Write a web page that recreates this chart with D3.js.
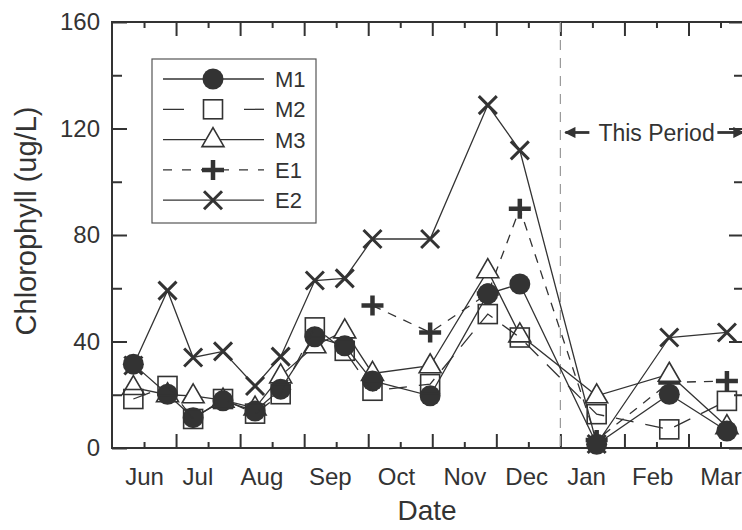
<!DOCTYPE html>
<html>
<head>
<meta charset="utf-8">
<script src="https://cdn.jsdelivr.net/npm/d3@7"></script>
<style>
  body { margin: 0; background: #fff; }
  text { font-family: "Liberation Sans", Arial, sans-serif; fill: #333; }
</style>
</head>
<body>
<div id="chart"></div>
<script>

// sampling dates as days since 1 June
var days = [10, 26, 38, 52, 67, 79, 95, 109, 122, 149, 176, 191, 227, 261, 288];

var m1 = [31.5, 20.2, 11.4, 17.7, 13.9, 22.1, 41.8, 38.4, 25.2, 19.6, 57.9, 61.6, 1.4, 20.2, 6.4];
var m2 = [18.4, 23.3, 10.9, 18.4, 12.9, 20.2, 45.3, 36.5, 21.5, 24.0, 50.3, 41.5, 12.7, 7.0, 17.7];
var m3 = [22.7, 20.0, 19.6, 18.0, 15.0, 27.1, 38.4, 44.0, 28.0, 30.9, 66.6, 42.5, 19.6, 27.7, 8.0];
var e1 = [null, null, null, null, null, null, null, null, 53.5, 43.4, 58.0, 89.9, 3.0, 24.6, 25.2];
var e2 = [31.0, 59.1, 34.0, 36.3, 23.3, 34.3, 62.9, 63.7, 78.5, 78.5, 128.8, 111.8, 1.5, 41.5, 43.4];

var months = ["Jun", "Jul", "Aug", "Sep", "Oct", "Nov", "Dec", "Jan", "Feb", "Mar"];
var monthLabelDays = [15, 40, 70, 102, 133, 165, 194, 222, 253, 285];

var periodStart = 210;   // day where "This Period" begins
var periodLabel = "This Period";

var svgWidth = 742, svgHeight = 530;

var svg = d3.select("#chart")
  .append("svg")
  .attr("width", svgWidth)
  .attr("height", svgHeight)
  .style("overflow", "hidden")

var margin = { top: 22, left: 112, right: 744, bottom: 448 }
var ink = "#333"

var x = d3.scaleLinear().domain([0, 296]).range([margin.left, margin.right])
var y = d3.scaleLinear().domain([0, 160]).range([margin.bottom, margin.top])

// ticks: x every 15 days (major at 30), y every 20 (labels at 40)
var xMajor = d3.range(30, 296, 30)
var xMinor = d3.range(15, 296, 30)
var yMajor = [0, 40, 80, 120, 160]
var yMinor = [20, 60, 100, 140]

function styleAxis(g) {
  g.select(".domain").remove()
  g.selectAll("line").attr("stroke", ink).attr("stroke-width", 2)
  g.selectAll("text").attr("font-size", "24px").attr("fill", ink)
}

// left axis
svg.append("g").attr("transform", `translate(${margin.left},0)`)
  .call(d3.axisLeft(y).tickValues(yMajor).tickSizeInner(-15).tickSizeOuter(0).tickPadding(12))
  .call(styleAxis)
svg.append("g").attr("transform", `translate(${margin.left},0)`)
  .call(d3.axisLeft(y).tickValues(yMinor).tickSizeInner(-10).tickSizeOuter(0).tickFormat(""))
  .call(styleAxis)

// right axis (mirror ticks)
svg.append("g").attr("transform", `translate(${margin.right},0)`)
  .call(d3.axisRight(y).tickValues(yMajor).tickSizeInner(-15).tickSizeOuter(0).tickFormat(""))
  .call(styleAxis)
svg.append("g").attr("transform", `translate(${margin.right},0)`)
  .call(d3.axisRight(y).tickValues(yMinor).tickSizeInner(-10).tickSizeOuter(0).tickFormat(""))
  .call(styleAxis)

// bottom and top ticks
svg.append("g").attr("transform", `translate(0,${margin.bottom})`)
  .call(d3.axisBottom(x).tickValues(xMajor).tickSizeInner(-14).tickSizeOuter(0).tickFormat(""))
  .call(styleAxis)
svg.append("g").attr("transform", `translate(0,${margin.bottom})`)
  .call(d3.axisBottom(x).tickValues(xMinor).tickSizeInner(-6).tickSizeOuter(0).tickFormat(""))
  .call(styleAxis)
svg.append("g").attr("transform", `translate(0,${margin.top})`)
  .call(d3.axisTop(x).tickValues(xMajor).tickSizeInner(-14).tickSizeOuter(0).tickFormat(""))
  .call(styleAxis)
svg.append("g").attr("transform", `translate(0,${margin.top})`)
  .call(d3.axisTop(x).tickValues(xMinor).tickSizeInner(-6).tickSizeOuter(0).tickFormat(""))
  .call(styleAxis)

// month labels
svg.append("g").attr("transform", `translate(0,${margin.bottom})`)
  .call(d3.axisBottom(x).tickValues(monthLabelDays).tickSize(0).tickPadding(20)
    .tickFormat((d, i) => months[i]))
  .call(styleAxis)

// frame
svg.append("rect")
  .attr("x", margin.left).attr("y", margin.top)
  .attr("width", margin.right - margin.left)
  .attr("height", margin.bottom - margin.top)
  .attr("fill", "none").attr("stroke", ink).attr("stroke-width", 2)

// axis titles
svg.append("text")
  .attr("transform", `translate(36,${(margin.top + margin.bottom) / 2 - 14}) rotate(-90)`)
  .attr("text-anchor", "middle")
  .attr("font-size", "29px")
  .text("Chlorophyll (ug/L)")

svg.append("text")
  .attr("x", (margin.left + margin.right) / 2 - 1)
  .attr("y", 520)
  .attr("text-anchor", "middle")
  .attr("font-size", "28px")
  .text("Date")

// "This Period" marker
svg.append("line")
  .attr("x1", x(periodStart)).attr("x2", x(periodStart))
  .attr("y1", y(160)).attr("y2", y(0))
  .attr("stroke", "#999").attr("stroke-width", 1.2)
  .attr("stroke-dasharray", "10,8")

var defs = svg.append("defs")
defs.append("marker")
  .attr("id", "arrow")
  .attr("viewBox", "0 0 10 10")
  .attr("refX", 9).attr("refY", 5)
  .attr("markerWidth", 4.5).attr("markerHeight", 4)
  .attr("orient", "auto-start-reverse")
  .append("path").attr("d", "M0,0L10,5L0,10z").attr("fill", ink)

var annY = y(118.5)
svg.append("line")
  .attr("x1", x(periodStart) + 29).attr("x2", x(periodStart) + 5)
  .attr("y1", annY).attr("y2", annY)
  .attr("stroke", ink).attr("stroke-width", 2.8)
  .attr("marker-end", "url(#arrow)")
svg.append("text")
  .attr("x", x(periodStart) + 38).attr("y", annY)
  .attr("dy", "0.35em")
  .attr("font-size", "23px")
  .text(periodLabel)
svg.append("line")
  .attr("x1", x(periodStart) + 157).attr("x2", x(periodStart) + 183)
  .attr("y1", annY).attr("y2", annY)
  .attr("stroke", ink).attr("stroke-width", 2.8)
  .attr("marker-end", "url(#arrow)")

// marker drawers
function drawMarker(g, kind) {
  if (kind == "circle") {
    g.append("circle").attr("r", 10.5).attr("fill", ink)
  } else if (kind == "square") {
    g.append("rect").attr("x", -9.5).attr("y", -9.5).attr("width", 19).attr("height", 19)
      .attr("fill", "none").attr("stroke", ink).attr("stroke-width", 1.6)
  } else if (kind == "triangle") {
    g.append("path").attr("d", "M0,-12L11,7L-11,7Z")
      .attr("fill", "#fff").attr("stroke", ink).attr("stroke-width", 1.6)
  } else if (kind == "plus") {
    g.append("path").attr("d", "M-11,0H11M0,-10V10")
      .attr("stroke", ink).attr("stroke-width", 4.5)
  } else if (kind == "x") {
    g.append("path").attr("d", "M-9,-9L9,9M-9,9L9,-9")
      .attr("stroke", ink).attr("stroke-width", 3)
  }
}

var series = [
  { name: "E2", values: e2, marker: "x", dash: null },
  { name: "E1", values: e1, marker: "plus", dash: "9,8" },
  { name: "M3", values: m3, marker: "triangle", dash: null },
  { name: "M1", values: m1, marker: "circle", dash: null },
  { name: "M2", values: m2, marker: "square", dash: "18,12" }
]

var line = d3.line()
  .defined(d => d.v != null)
  .x(d => x(d.day))
  .y(d => y(d.v))

series.forEach(function(s) {
  var pts = days.map((d, i) => ({ day: d, v: s.values[i] }))
  svg.append("path")
    .datum(pts)
    .attr("d", line)
    .attr("fill", "none")
    .attr("stroke", ink)
    .attr("stroke-width", 1.3)
    .attr("stroke-dasharray", s.dash)

  svg.selectAll(null)
    .data(pts.filter(p => p.v != null))
    .enter()
    .append("g")
    .attr("transform", p => `translate(${x(p.day)},${y(p.v)})`)
    .each(function() { drawMarker(d3.select(this), s.marker) })
})

// legend
var legendOrder = ["M1", "M2", "M3", "E1", "E2"]
var legend = svg.append("g").attr("transform", "translate(152,59)")
legend.append("rect")
  .attr("width", 164).attr("height", 164)
  .attr("fill", "#fff").attr("stroke", "#555").attr("stroke-width", 1.2)

legendOrder.forEach(function(name, i) {
  var s = series.find(d => d.name == name)
  var row = legend.append("g").attr("transform", `translate(0,${20 + i * 30.3})`)
  row.append("line")
    .attr("x1", 11).attr("x2", 112)
    .attr("stroke", ink).attr("stroke-width", 1.3)
    .attr("stroke-dasharray", s.dash == null ? null : (name == "M2" ? "21,60" : "9,10"))
  var mk = row.append("g").attr("transform", "translate(61,0)")
  drawMarker(mk, s.marker)
  row.append("text")
    .attr("x", 123).attr("dy", "0.36em")
    .attr("font-size", "22px")
    .text(name)
})

</script>
</body>
</html>
